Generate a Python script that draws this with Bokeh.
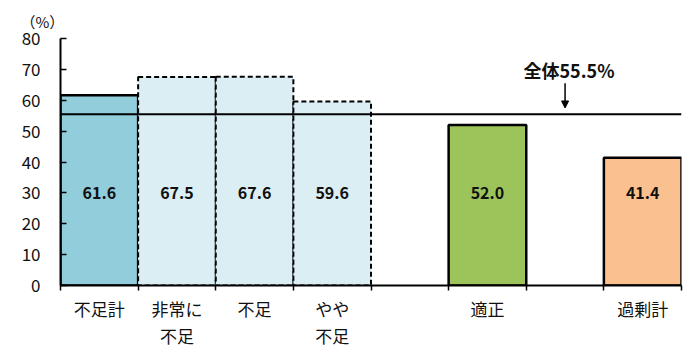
from bokeh.plotting import figure
from bokeh.models import (ColumnDataSource, Range1d, FixedTicker, Span, Arrow,
                          NormalHead, Label)
from bokeh.core.properties import value
from bokeh.embed import file_html
from bokeh.resources import INLINE

# --- data -------------------------------------------------------------------
categories = ["不足計", "非常に\n不足", "不足", "やや\n不足", "適正", "過剰計"]
rates = [61.6, 67.5, 67.6, 59.6, 52.0, 41.4]
overall_rate = 55.5
overall_label = "全体55.5%"
y_ticks = [0, 10, 20, 30, 40, 50, 60, 70, 80]

# --- layout: one slot per bar, with empty slots before 適正 and 過剰計 ------
gap_before = {"適正", "過剰計"}
slot_x, pos = [], 0
for c in categories:
    if c in gap_before:
        pos += 1
    slot_x.append(pos + 0.5)
    pos += 1
n_slots = pos

fills = ["#92cddc", "#daeef3", "#daeef3", "#daeef3", "#9dc35b", "#fac090"]
styles = ["solid", "dashed", "dashed", "dashed", "solid", "solid"]

FONT = "Noto Sans CJK JP"

p = figure(width=700, height=350, output_backend="svg", toolbar_location=None,
           x_range=Range1d(0, n_slots), y_range=Range1d(0, 80),
           min_border_left=60, min_border_right=19, min_border_top=38,
           min_border_bottom=64)
p.outline_line_color = None
p.grid.grid_line_color = None
p.background_fill_color = "white"
p.border_fill_color = "white"

# unit caption in the top-left corner
p.title.text = "（%）"
p.title.align = "left"
p.title.vertical_align = "top"
p.title.offset = -40
p.title.text_font = FONT
p.title.text_font_size = "15px"
p.title.text_font_style = "normal"
p.title.text_color = "#111111"
p.title.standoff = 10


def subset(style):
    idx = [i for i, s in enumerate(styles) if s == style]
    return ColumnDataSource(dict(
        x=[slot_x[i] for i in idx],
        top=[rates[i] for i in idx],
        fill=[fills[i] for i in idx],
    ))


p.vbar(x="x", top="top", width=1, bottom=0, source=subset("solid"),
       fill_color="fill", line_color="black", line_width=2.5)
p.vbar(x="x", top="top", width=1, bottom=0, source=subset("dashed"),
       fill_color="fill", line_color="black", line_width=2, line_dash="5 3")

# value labels inside the bars
p.text(x=slot_x, y=[30] * len(rates), text=[f"{v:.1f}" for v in rates],
       text_align="center", text_baseline="middle",
       text_font=value(FONT), text_font_size="16px", text_font_style="bold",
       text_color="#111111")

# overall reference line
p.add_layout(Span(location=overall_rate, dimension="width",
                  line_color="black", line_width=2))
arrow_x = n_slots - 1.5
p.add_layout(Arrow(end=NormalHead(size=7, fill_color="black", line_color="black"),
                   x_start=arrow_x, y_start=65.5, x_end=arrow_x, y_end=overall_rate + 2,
                   line_color="black", line_width=1.5))
p.add_layout(Label(x=arrow_x + 0.05, y=69.8, text=overall_label,
                   text_align="center", text_baseline="middle",
                   text_font=FONT, text_font_size="18px", text_font_style="bold",
                   text_color="#111111"))

# axes
xa = p.xaxis[0]
xa.ticker = FixedTicker(ticks=slot_x, minor_ticks=list(range(n_slots + 1)))
xa.major_label_overrides = {x: c for x, c in zip(slot_x, categories)}
xa.major_tick_line_color = None
xa.minor_tick_line_color = "black"
xa.minor_tick_line_width = 1.5
xa.minor_tick_in = 0
xa.minor_tick_out = 5
xa.axis_line_color = "black"
xa.axis_line_width = 2
xa.major_label_text_font = FONT
xa.major_label_text_font_size = "17px"
xa.major_label_text_line_height = 1.08
xa.major_label_text_color = "#111111"
xa.major_label_standoff = 4

ya = p.yaxis[0]
ya.ticker = FixedTicker(ticks=y_ticks)
ya.axis_line_color = "black"
ya.axis_line_width = 2
ya.major_tick_in = 6
ya.major_tick_out = 0
ya.major_tick_line_width = 1.5
ya.minor_tick_line_color = None
ya.major_label_standoff = 20
ya.major_label_text_font = FONT
ya.major_label_text_font_size = "17px"
ya.major_label_text_color = "#111111"

open("out.html", "w").write(file_html(p, INLINE))
